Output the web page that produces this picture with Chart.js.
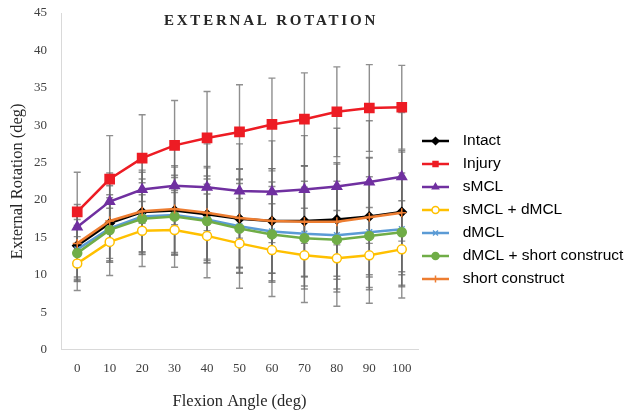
<!DOCTYPE html>
<html>
<head>
<meta charset="utf-8">
<script src="https://cdn.jsdelivr.net/npm/chart.js@4/dist/chart.umd.min.js"></script>
<style>
  html, body { margin: 0; padding: 0; background: #fff; }
  #wrap { width: 626px; height: 414px; }
</style>
</head>
<body>
<div id="wrap"><canvas id="myChart" width="626" height="414"></canvas></div>
<script>
const angles = ['0', '10', '20', '30', '40', '50', '60', '70', '80', '90', '100'];

const intact = [13.9, 16.9, 18.4, 18.6, 18.1, 17.5, 17.2, 17.2, 17.4, 17.8, 18.4];
const injury = [18.4, 22.8, 25.6, 27.3, 28.3, 29.1, 30.1, 30.8, 31.8, 32.3, 32.4];
const smcl = [16.4, 19.8, 21.4, 21.9, 21.7, 21.2, 21.1, 21.4, 21.8, 22.4, 23.1];
const smclDmcl = [11.5, 14.4, 15.9, 16.0, 15.2, 14.2, 13.3, 12.6, 12.2, 12.6, 13.4];
const dmcl = [13.4, 16.2, 17.8, 18.0, 17.4, 16.5, 15.8, 15.5, 15.3, 15.7, 16.1];
const dmclShort = [12.9, 16.0, 17.5, 17.8, 17.2, 16.2, 15.4, 14.9, 14.7, 15.2, 15.7];
const shortConstruct = [14.2, 17.2, 18.5, 18.8, 18.3, 17.6, 17.2, 17.1, 17.1, 17.7, 18.3];

// standard deviations (error bars)
const sdIntact = [4.8, 5.0, 5.3, 5.8, 6.2, 6.6, 7.0, 7.4, 7.6, 7.8, 8.0];
const sdInjury = [5.3, 5.8, 5.8, 6.0, 6.2, 6.3, 6.2, 6.2, 6.0, 5.8, 5.6];
const sdSmcl = [3.0, 3.8, 4.5, 5.2, 5.8, 6.3, 6.8, 7.2, 7.8, 8.2, 8.6];
const sdSmclDmcl = [3.6, 4.5, 4.8, 5.0, 5.6, 6.0, 6.2, 6.3, 6.4, 6.4, 6.5];
const sdDmcl = [4.0, 4.5, 5.0, 5.3, 5.8, 6.2, 6.6, 7.0, 7.2, 7.4, 7.5];
const sdDmclShort = [3.7, 4.3, 4.8, 5.2, 5.6, 6.0, 6.4, 6.8, 7.0, 7.2, 7.3];
const sdShort = [4.5, 5.0, 5.5, 5.8, 6.2, 6.6, 7.0, 7.4, 7.7, 8.0, 8.3];

const yTicks = [0, 5, 10, 15, 20, 25, 30, 35, 40, 45];

const serif = "'Liberation Serif', 'Times New Roman', serif";
const sans = "'Liberation Sans', Arial, sans-serif";

function series(label, data, sd, color, style, radius, fill, idx) {
    return {
        label: label,
        data: data,
        sd: sd,
        borderColor: color,
        backgroundColor: fill,
        pointBackgroundColor: fill,
        pointBorderColor: color,
        pointStyle: style,
        pointRadius: radius,
        pointHoverRadius: radius,
        pointBorderWidth: 1.5,
        borderWidth: 2.5,
        tension: 0,
        order: 10 - idx
    };
}

const datasets = [
    series('Intact', intact, sdIntact, '#000000', 'rectRot', 4.5, '#000000', 0),
    series('Injury', injury, sdInjury, '#ED1C24', 'rect', 6.5, '#ED1C24', 1),
    series('sMCL', smcl, sdSmcl, '#7030A0', 'triangle', 5.5, '#7030A0', 2),
    series('sMCL + dMCL', smclDmcl, sdSmclDmcl, '#FFC000', 'circle', 4.5, '#ffffff', 3),
    series('dMCL', dmcl, sdDmcl, '#5B9BD5', 'crossRot', 4, '#5B9BD5', 4),
    series('dMCL + short construct', dmclShort, sdDmclShort, '#70AD47', 'circle', 4.5, '#70AD47', 5),
    series('short construct', shortConstruct, sdShort, '#ED7D31', 'cross', 4.5, '#ED7D31', 6)
];

const errorBars = {
    id: 'errorBars',
    beforeDatasetsDraw(chart) {
        const ctx = chart.ctx;
        const x = chart.scales.x;
        const y = chart.scales.y;
        ctx.save();
        ctx.strokeStyle = 'rgba(105,105,105,0.75)';
        ctx.lineWidth = 1.4;
        chart.data.datasets.forEach(ds => {
            ds.data.forEach((v, j) => {
                const px = x.getPixelForValue(j);
                const top = y.getPixelForValue(v + ds.sd[j]);
                const bot = y.getPixelForValue(v - ds.sd[j]);
                ctx.beginPath();
                ctx.moveTo(px, top);
                ctx.lineTo(px, bot);
                ctx.moveTo(px - 3.5, top);
                ctx.lineTo(px + 3.5, top);
                ctx.moveTo(px - 3.5, bot);
                ctx.lineTo(px + 3.5, bot);
                ctx.stroke();
            });
        });
        ctx.restore();
    }
};

// line + marker sample in each legend box
const legendIcons = {
    id: 'legendIcons',
    afterDraw(chart) {
        const ctx = chart.ctx;
        const boxes = chart.legend.legendHitBoxes;
        ctx.save();
        chart.data.datasets.forEach((ds, i) => {
            const b = boxes[i];
            const cy = b.top + b.height / 2;
            ctx.strokeStyle = ds.borderColor;
            ctx.lineWidth = 2.5;
            ctx.beginPath();
            ctx.moveTo(b.left, cy);
            ctx.lineTo(b.left + 27, cy);
            ctx.stroke();
            ctx.fillStyle = ds.pointBackgroundColor;
            ctx.strokeStyle = ds.pointBorderColor;
            ctx.lineWidth = 1.5;
            Chart.helpers.drawPoint(ctx, {pointStyle: ds.pointStyle, radius: 3.5, borderWidth: 1.5, rotation: 0}, b.left + 13.5, cy);
        });
        ctx.restore();
    }
};

const spacedTitle = {
    id: 'spacedTitle',
    afterDraw(chart) {
        const ctx = chart.ctx;
        ctx.save();
        ctx.font = 'bold 15px ' + serif;
        ctx.letterSpacing = '2.8px';
        ctx.fillStyle = '#262626';
        ctx.textAlign = 'center';
        ctx.textBaseline = 'middle';
        ctx.fillText('EXTERNAL ROTATION', 271, 21);
        ctx.restore();
    }
};

new Chart(document.getElementById('myChart'), {
    type: 'line',
    data: {
        labels: angles,
        datasets: datasets
    },
    options: {
        responsive: false,
        animation: false,
        layout: {
            padding: {left: 2, top: 8, right: 0, bottom: 2}
        },
        plugins: {
            legend: {
                position: 'right',
                maxWidth: 208,
                labels: {
                    boxWidth: 33,
                    boxHeight: 19,
                    padding: 4,
                    color: '#000000',
                    font: {family: sans, size: 15.5},
                    generateLabels: chart => chart.data.datasets.map((ds, i) => ({
                        text: ds.label,
                        datasetIndex: i,
                        hidden: false,
                        lineWidth: 0,
                        strokeStyle: 'rgba(0,0,0,0)',
                        fillStyle: 'rgba(0,0,0,0)',
                        fontColor: '#000000'
                    }))
                }
            },
            tooltip: {enabled: false}
        },
        scales: {
            x: {
                offset: true,
                grid: {display: false, drawTicks: false},
                border: {color: '#d9d9d9', width: 1},
                ticks: {color: '#404040', padding: 11, font: {family: serif, size: 13}},
                title: {display: true, text: 'Flexion Angle (deg)', color: '#262626', font: {family: serif, size: 16.5}, padding: {top: 5, bottom: 0}}
            },
            y: {
                min: 0,
                max: 45,
                afterBuildTicks: scale => {
                    scale.ticks = yTicks.map(v => ({value: v}));
                },
                afterFit: scale => {
                    scale.width = 59;
                    scale.paddingTop = 13;
                },
                grid: {display: false, drawTicks: false},
                border: {color: '#d9d9d9', width: 1},
                ticks: {color: '#404040', padding: 14, font: {family: serif, size: 13}},
                title: {display: true, text: 'External Rotation (deg)', color: '#262626', font: {family: serif, size: 16.5}, padding: {top: 6, bottom: 0}}
            }
        }
    },
    plugins: [errorBars, legendIcons, spacedTitle]
});
</script>
</body>
</html>
